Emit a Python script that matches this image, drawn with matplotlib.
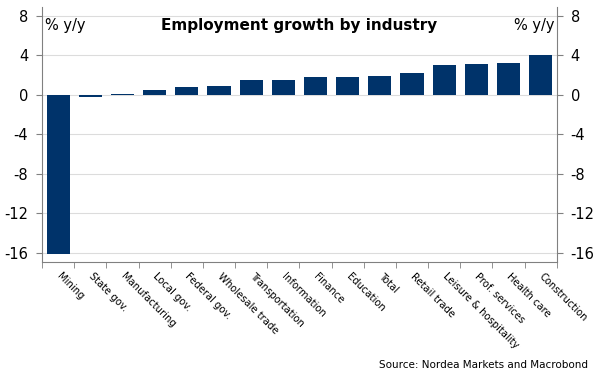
import numpy as np
import matplotlib.pyplot as plt

# Data (% y/y)
industries = ["Mining", "State gov.", "Manufacturing", "Local gov.", "Federal gov.",
              "Wholesale trade", "Transportation", "Information", "Finance", "Education",
              "Total", "Retail trade", "Leisure & hospitality", "Prof. services",
              "Health care", "Construction"]
growth = [-16.1, -0.25, 0.1, 0.5, 0.8, 0.9, 1.45, 1.5, 1.8, 1.85, 1.9, 2.2, 3.0, 3.15, 3.25, 4.0]
yticks = [8, 4, 0, -4, -8, -12, -16]

navy = "#00336a"
axcol = "#808080"

fig = plt.figure(figsize=(6, 3.79), dpi=100)
ax = fig.add_axes([0.07, 0.309, 0.858, 0.673])

x = np.arange(len(industries))
ax.bar(x, growth, width=0.72, color=navy, zorder=3)

ax.set_xlim(-0.5, len(industries) - 0.5)
ax.set_ylim(-16.9, 8.9)

# y axis on both sides
ax.set_yticks(yticks)
ax.set_yticklabels([str(t) for t in yticks])
ax.tick_params(axis='y', which='both', left=True, right=True, labelleft=True, labelright=True,
               length=4, color=axcol, labelsize=10.5, pad=6)
ax.grid(axis='y', color="#dcdcdc", linewidth=0.8, zorder=0)

# x labels at centers, tick marks at category edges
ax.set_xticks(x)
ax.set_xticklabels(industries, rotation=-45, ha='left', va='center',
                   rotation_mode='anchor', fontsize=7.2)
ax.tick_params(axis='x', which='major', length=0, pad=9)
ax.set_xticks(np.arange(len(industries) + 1) - 0.5, minor=True)
ax.tick_params(axis='x', which='minor', length=4, color=axcol)

for side in ['left', 'right', 'bottom']:
    ax.spines[side].set_color(axcol)
ax.spines['top'].set_visible(False)

ax.text(0.5, 0.955, "Employment growth by industry", transform=ax.transAxes,
        ha='center', va='top', fontsize=11, fontweight='bold')
ax.text(0.005, 0.955, "% y/y", transform=ax.transAxes, ha='left', va='top', fontsize=10.5)
ax.text(0.995, 0.955, "% y/y", transform=ax.transAxes, ha='right', va='top', fontsize=10.5)

fig.text(0.98, 0.025, "Source: Nordea Markets and Macrobond", ha='right', va='bottom', fontsize=7.5)

fig.savefig("out.png", dpi=100)
